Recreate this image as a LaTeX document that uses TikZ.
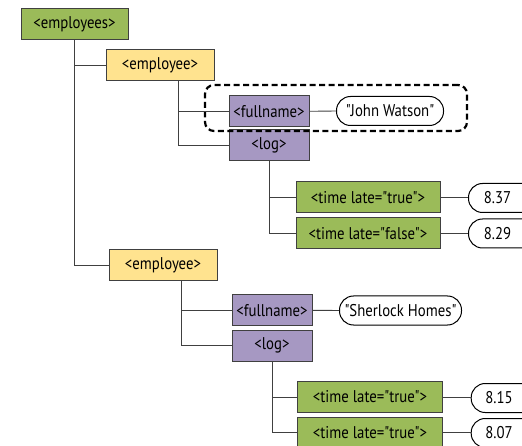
\documentclass[tikz,border=0pt]{standalone}
\usepackage{fontspec}
\newfontfamily\labelfont{PT Sans}[FakeStretch=0.87]
\definecolor{tgreen}{HTML}{9BBB59}
\definecolor{tyellow}{HTML}{FFE38F}
\definecolor{tpurple}{HTML}{A698C2}
\definecolor{tline}{HTML}{404040}
\begin{document}
\begin{tikzpicture}[x=1pt,y=-1pt,
  every node/.style={font=\labelfont\fontsize{17}{19}\selectfont, inner sep=0pt},
  elem/.style={draw=tline, line width=1pt, minimum height=31pt},
  greenbox/.style={elem, fill=tgreen},
  yellowbox/.style={elem, fill=tyellow},
  purplebox/.style={elem, fill=tpurple, minimum width=80pt},
  valuebox/.style={draw=black, line width=1pt, fill=white, rounded corners=14pt, minimum height=29pt},
  valtext/.style={inner sep=0pt},
  link/.style={draw=tline, line width=0.9pt},
  group/.style={draw=black, line width=2.2pt, dash pattern=on 6pt off 3.5pt, rounded corners=9pt}
]
\useasboundingbox (0,0) rectangle (522,446);
\clip (0,0) rectangle (522,446);

% nodes
\node[greenbox, minimum width=107pt] (emps) at (74.5,24.5) {<employees>};
\node[yellowbox, minimum width=108pt] (emp1) at (160,65) {<employee>};
\node[purplebox] (fn1) at (269,111.3) {<fullname>};
\node[valuebox, minimum width=107pt] (jw) at (390,111) {"John Watson"};
\node[purplebox] (log1) at (269,145.5) {<log>};
\node[greenbox, minimum width=144pt] (t1) at (368,197.2) {<time late="true">};
\node[greenbox, minimum width=144pt] (t2) at (368,233.5) {<time late="false">};
\node[valuebox, minimum width=72pt, anchor=west] (v1) at (468,198) {};
\node[valuebox, minimum width=72pt, anchor=west] (v2) at (468,233.5) {};
\node[valtext] (v1t) at (497.5,198) {8.37};
\node[valtext] (v2t) at (497.5,233.5) {8.29};

\node[yellowbox, minimum width=108pt] (emp2) at (163,265) {<employee>};
\node[purplebox] (fn2) at (272,310.3) {<fullname>};
\node[valuebox, minimum width=122pt] (sh) at (400.5,310.5) {"Sherlock Homes"};
\node[purplebox] (log2) at (272,345.5) {<log>};
\node[greenbox, minimum width=145pt] (t3) at (370,397) {<time late="true">};
\node[greenbox, minimum width=145pt] (t4) at (370,432.8) {<time late="true">};
\node[valuebox, minimum width=72pt, anchor=west] (v3) at (470.7,398) {};
\node[valuebox, minimum width=72pt, anchor=west] (v4) at (470.7,433) {};
\node[valtext] (v3t) at (499,398) {8.15};
\node[valtext] (v4t) at (499,433) {8.07};

% dashed group
\node[group, minimum width=262pt, minimum height=46pt] (grp) at (336,108) {};

% connectors
\coordinate (e1s) at ([xshift=18pt]emp1.south);
\coordinate (e2s) at ([xshift=18pt]emp2.south);
\draw[link] (emps.south) |- (emp2.west);
\draw[link] (emps.south |- emp1.west) -- (emp1.west);
\draw[link] (e1s) |- (log1.west);
\draw[link] (e1s |- fn1.west) -- (fn1.west);
\draw[link] (fn1.east) -- (jw.west);
\draw[link] (log1.south) |- (t2.west);
\draw[link] (log1.south |- t1.west) -- (t1.west);
\draw[link] (t1.east) -- (t1.east -| v1.west);
\draw[link] (t2.east) -- (t2.east -| v2.west);
\draw[link] (e2s) |- (log2.west);
\draw[link] (e2s |- fn2.west) -- (fn2.west);
\draw[link] (fn2.east) -- (sh.west);
\draw[link] (log2.south) |- (t4.west);
\draw[link] (log2.south |- t3.west) -- (t3.west);
\draw[link] (t3.east) -- (t3.east -| v3.west);
\draw[link] (t4.east) -- (t4.east -| v4.west);
\end{tikzpicture}
\end{document}
